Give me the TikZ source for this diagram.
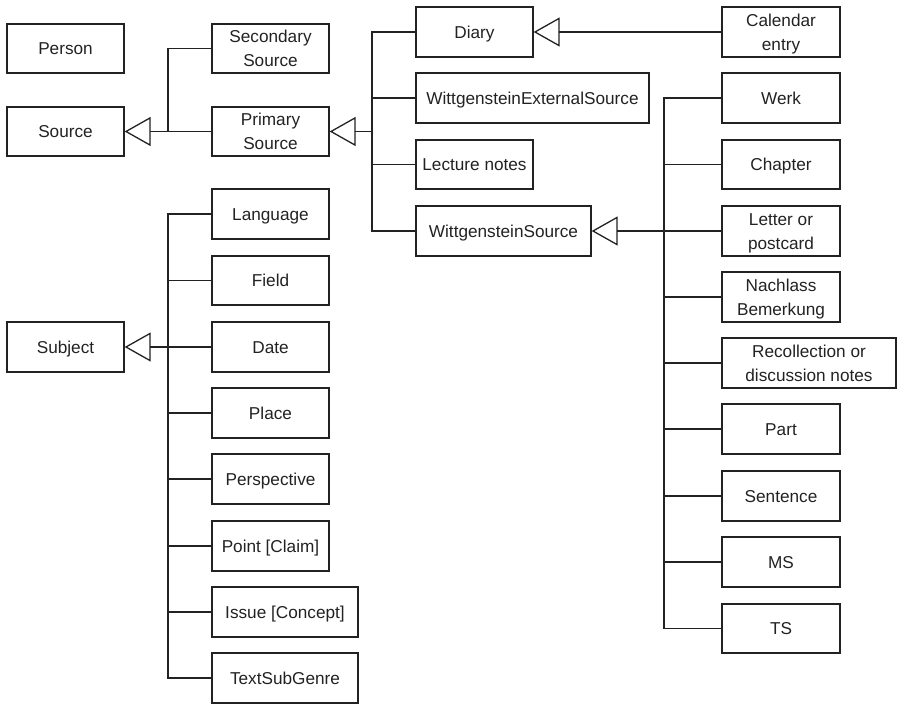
\documentclass[tikz,border=0pt]{standalone}
\usepackage{fontspec}
\setmainfont{Liberation Sans}
\usetikzlibrary{arrows.meta}
\definecolor{ink}{HTML}{222222}
\tikzset{
  box/.style={draw=ink, line width=1.3pt, inner sep=0pt, align=center, text=ink,
    font=\fontsize{17.2}{24}\selectfont},
  conn/.style={draw=ink, line width=1.3pt},
  inh/.style={conn, -{Triangle[open, length=26pt, width=29pt, line width=1.3pt]}}
}
% one text line, measured by its cap height only
\newcommand{\cl}[1]{\raisebox{0pt}[12.4pt][0pt]{#1}}
\newcommand{\bx}[6]{%
  \node[box, minimum width={(#4-#2)*1pt}, minimum height={(#5-#3)*1pt}]
    (#1) at ({(#2+#4)/2},{(#3+#5)/2}) {#6};}
\begin{document}
\begin{tikzpicture}[x=1pt,y=-1pt]
\useasboundingbox (0,0) rectangle (897,704);
% left column
\bx{person}{7}{24}{124}{73}{\cl{Person}}
\bx{source}{7}{107}{124}{156}{\cl{Source}}
\bx{subject}{7}{322}{124}{372}{\cl{Subject}}
% second column
\bx{secondary}{212}{24}{329}{73}{\cl{Secondary}\\\cl{Source}}
\bx{primary}{212}{107}{329}{156}{\cl{Primary}\\\cl{Source}}
\bx{language}{212}{189}{329}{239}{\cl{Language}}
\bx{field}{212}{256}{329}{305}{\cl{Field}}
\bx{date}{212}{322}{329}{372}{\cl{Date}}
\bx{place}{212}{388}{329}{438}{\cl{Place}}
\bx{perspective}{212}{454}{329}{504}{\cl{Perspective}}
\bx{point}{212}{521}{329}{571}{\cl{Point [Claim]}}
\bx{issue}{212}{587}{358}{637}{\cl{Issue [Concept]}}
\bx{textsub}{212}{653}{358}{703}{\cl{TextSubGenre}}
% third column
\bx{diary}{416}{7}{533}{57}{\cl{Diary}}
\bx{wes}{416}{73}{649}{123}{\cl{WittgensteinExternalSource}}
\bx{lecture}{416}{140}{533}{189}{\cl{Lecture notes}}
\bx{ws}{416}{206}{591}{256}{\cl{WittgensteinSource}}
% fourth column
\bx{calendar}{722}{7}{840}{57}{\cl{Calendar}\\\cl{entry}}
\bx{werk}{722}{73}{840}{123}{\cl{Werk}}
\bx{chapter}{722}{140}{840}{189}{\cl{Chapter}}
\bx{letter}{722}{206}{840}{256}{\cl{Letter or}\\\cl{postcard}}
\bx{nachlass}{722}{272}{840}{322}{\cl{Nachlass}\\\cl{Bemerkung}}
\bx{recoll}{722}{338}{896}{388}{\cl{Recollection or}\\\cl{discussion notes}}
\bx{part}{722}{404}{840}{454}{\cl{Part}}
\bx{sentence}{722}{471}{840}{521}{\cl{Sentence}}
\bx{ms}{722}{537}{840}{587}{\cl{MS}}
\bx{ts}{722}{604}{840}{653}{\cl{TS}}
% junctions
\coordinate (jsrc) at (168,131.5);
\coordinate (jprim) at (372,131.5);
\coordinate (jws) at (664,231);
\coordinate (jsub) at (168,347);
% Source hierarchy
\draw[inh] (primary.west) -- (source.east);
\draw[conn] (secondary.west) -| (jsrc);
% Primary source hierarchy
\draw[inh] (jprim) -- (primary.east);
\draw[conn] (diary.west) -| (jprim);
\draw[conn] (ws.west) -| (jprim);
\draw[conn] (wes.west) -- (wes.west -| jprim);
\draw[conn] (lecture.west) -- (lecture.west -| jprim);
% Diary
\draw[inh] (calendar.west) -- (diary.east);
% WittgensteinSource hierarchy
\draw[inh] (letter.west) -- (ws.east);
\draw[conn] (werk.west) -| (jws);
\draw[conn] (ts.west) -| (jws);
\foreach \n in {chapter,nachlass,recoll,part,sentence,ms}
  \draw[conn] (\n.west) -- (\n.west -| jws);
% Subject hierarchy
\draw[inh] (date.west) -- (subject.east);
\draw[conn] (language.west) -| (jsub);
\draw[conn] (textsub.west) -| (jsub);
\foreach \n in {field,place,perspective,point,issue}
  \draw[conn] (\n.west) -- (\n.west -| jsub);
\end{tikzpicture}
\end{document}
